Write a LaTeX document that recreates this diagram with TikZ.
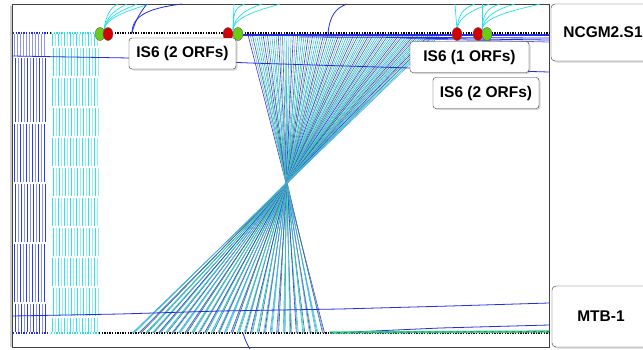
\documentclass[tikz,border=0pt]{standalone}
\usepackage{fontspec}
\setmainfont{Liberation Sans}
\usetikzlibrary{shadows}
\definecolor{trackblue}{RGB}{35,45,225}
\definecolor{trackcyan}{RGB}{35,225,230}
\definecolor{colblue0}{RGB}{45,60,230}
\definecolor{colblue1}{RGB}{140,150,240}
\definecolor{colcyan0}{RGB}{45,228,232}
\definecolor{colcyan1}{RGB}{150,240,242}
\definecolor{orfred}{RGB}{210,0,0}
\definecolor{orfgreen}{RGB}{105,205,20}
\definecolor{hit0}{RGB}{50,60,230}
\definecolor{hit1}{RGB}{70,210,235}
\definecolor{hit2}{RGB}{50,210,130}
\definecolor{hit3}{RGB}{60,110,120}
\definecolor{hit4}{RGB}{90,160,240}
\definecolor{hit5}{RGB}{120,170,220}
\definecolor{hit6}{RGB}{40,190,190}
\tikzset{
  isbox/.style={draw=black!80, fill=white, rounded corners=3pt, minimum height=31pt,
    font=\bfseries\fontsize{15.5}{18}\selectfont,
    drop shadow={shadow xshift=1.5pt, shadow yshift=-1.5pt, opacity=0.3}},
  seqbox/.style={isbox, rounded corners=4pt},
  orf/.style={draw=black!60, thin},
  colline/.style={line width=1},
  dots/.style={line width=1.4, dash pattern=on 1.4pt off 1.2pt}
}
\begin{document}
\begin{tikzpicture}[x=1pt, y=-1pt]
\useasboundingbox (0,0) rectangle (643,349);
\clip (0,0) rectangle (643,349);
\fill [white] (0,0) rectangle (643,349);
% panel
\draw [black!20, line width=2] (10.5,6) to (10.5,347);
\draw [black!75] (12,4) rectangle (549,347);
% tracks
\draw [dots, trackblue] (13,33) to (47,33);
\draw [dots, black] (47,33) to (51,33);
\draw [dots, trackcyan] (51,33) to (99,33);
\draw [dots, black] (99,33) to (549,33);
\draw [dots, trackblue] (13,333) to (47,333);
\draw [dots, trackcyan] (51,333) to (99,333);
\draw [dots, black] (99,333) to (549,333);
% left columns
\foreach \ya/\yb/\dx/\ca in {33/57/0/colblue1,57/123/1/colblue0,123/183/0/colblue0,183/243/1/colblue0,243/303/0/colblue0,303/333/1/colblue0} {
  \foreach \xc in {14.5,20.5,...,44.5}
    \draw [colline, \ca] (\xc+\dx,\ya+1) to (\xc+\dx,\yb-1);
  \foreach \xc in {17.5,23.5,...,41.5}
    \draw [colline, colblue1] (\xc+\dx,\ya+1) to (\xc+\dx,\yb-1);
}
\foreach \ya/\yb/\dx in {33/47/0,47/77/1,77/107/0,107/137/1,137/167/0,167/197/1,197/227/0,227/257/1,257/287/0,287/317/1,317/333/0} {
  \foreach \xc in {52.5,58.5,...,94.5}
    \draw [colline, colcyan0] (\xc+\dx,\ya+1) to (\xc+\dx,\yb-1);
  \foreach \xc in {55.5,61.5,...,97.5}
    \draw [colline, colcyan1] (\xc+\dx,\ya+1) to (\xc+\dx,\yb-1);
}
% inverted block
\foreach \i in {0,...,89} {
  \pgfmathsetmacro{\xt}{248+\i*2.1573}
  \pgfmathsetmacro{\xb}{286-(\xt-286)*1.0135+mod(\i,3)*1.2}
  \pgfmathtruncatemacro{\k}{mod(\i*5,7)}
  \draw [draw=hit\k, line width=0.6] (\xt,35) to (\xb,333);
}
% long blue hits
\draw [trackblue, line width=0.8] (12,56) to (130,58) to (250,63) to (410,68) to (549,72);
\draw [trackblue, line width=0.8] (12,316) to (120,314) to (220,311) to (340,309) to (450,306) to (549,303);
\draw [trackblue, line width=0.8] (330,333) to (440,328) to (549,325);
\draw [trackblue, line width=1.3] (240,35) to (549,35);
\draw [trackblue, line width=0.8] (300,37) to (549,38);
\draw [trackblue, line width=0.8] (400,38) to (549,40);
\draw [trackblue!70, line width=0.8] (420,39) to (549,42);
\draw [hit2, line width=2.2] (330,332.5) to (549,331.5);
\draw [hit3, line width=0.8, dash pattern=on 3pt off 4pt] (330,332.5) to (549,331.5);
\draw [trackblue, line width=0.8] (243,333) .. controls (245,340) and (247,344) .. (250,349);
% curves to the top edge
\foreach \xe in {118,127,137,148}
  \draw [trackcyan, line width=0.7] (104,30) .. controls (106,15) and (\xe-8,8) .. (\xe,4);
\draw [trackblue, line width=0.8] (132,33) .. controls (135,20) and (142,10) .. (147,4);
\draw [trackblue, line width=0.8] (132,33) .. controls (132,15) and (150,8) .. (182,4);
\draw [trackcyan, line width=0.7] (233,30) to (234,4);
\foreach \xe in {245,262,280}
  \draw [trackcyan, line width=0.7] (233,30) .. controls (234,15) and (\xe-12,8) .. (\xe,4);
\draw [trackblue, line width=0.8] (328,33) .. controls (330,15) and (336,8) .. (347,4);
\draw [trackcyan, line width=0.7] (457,30) to (455,4);
\foreach \xe in {475,490}
  \draw [trackcyan, line width=0.7] (457,30) .. controls (458,15) and (\xe-12,8) .. (\xe,4);
\draw [trackcyan, line width=0.7] (482,30) to (482,4);
\foreach \xe in {500,515,540}
  \draw [trackcyan, line width=0.7] (482,30) .. controls (483,15) and (\xe-14,8) .. (\xe,4);
% ORF marks
\draw [orf, fill=orfgreen] (100,34) ellipse [x radius=5, y radius=6.5];
\draw [orf, fill=orfred] (108,34) ellipse [x radius=5, y radius=6.5];
\draw [orf, fill=orfred] (228,34) ellipse [x radius=5, y radius=6.5];
\draw [orf, fill=orfgreen] (238,34) ellipse [x radius=5, y radius=6.5];
\draw [orf, fill=orfred] (457,34) ellipse [x radius=5, y radius=6.5];
\draw [orf, fill=orfred] (478,34) ellipse [x radius=5, y radius=6.5];
\draw [orf, fill=orfgreen] (487,34) ellipse [x radius=5, y radius=6.5];
% labels
\node [isbox, minimum width=107pt] (isA) at (182.5,53.5) {IS6 (2 ORFs)};
\node [isbox, minimum width=119pt] (isB) at (469.5,57) {IS6 (1 ORFs)};
\node [isbox, minimum width=106pt] (isC) at (486,93) {IS6 (2 ORFs)};
\node [seqbox, minimum width=104pt, minimum height=57pt] (ncgm) at (603,32.5) {NCGM2.S1};
\node [seqbox, minimum width=98pt, minimum height=61pt] (mtb) at (601,316.5) {MTB-1};
\end{tikzpicture}
\end{document}
